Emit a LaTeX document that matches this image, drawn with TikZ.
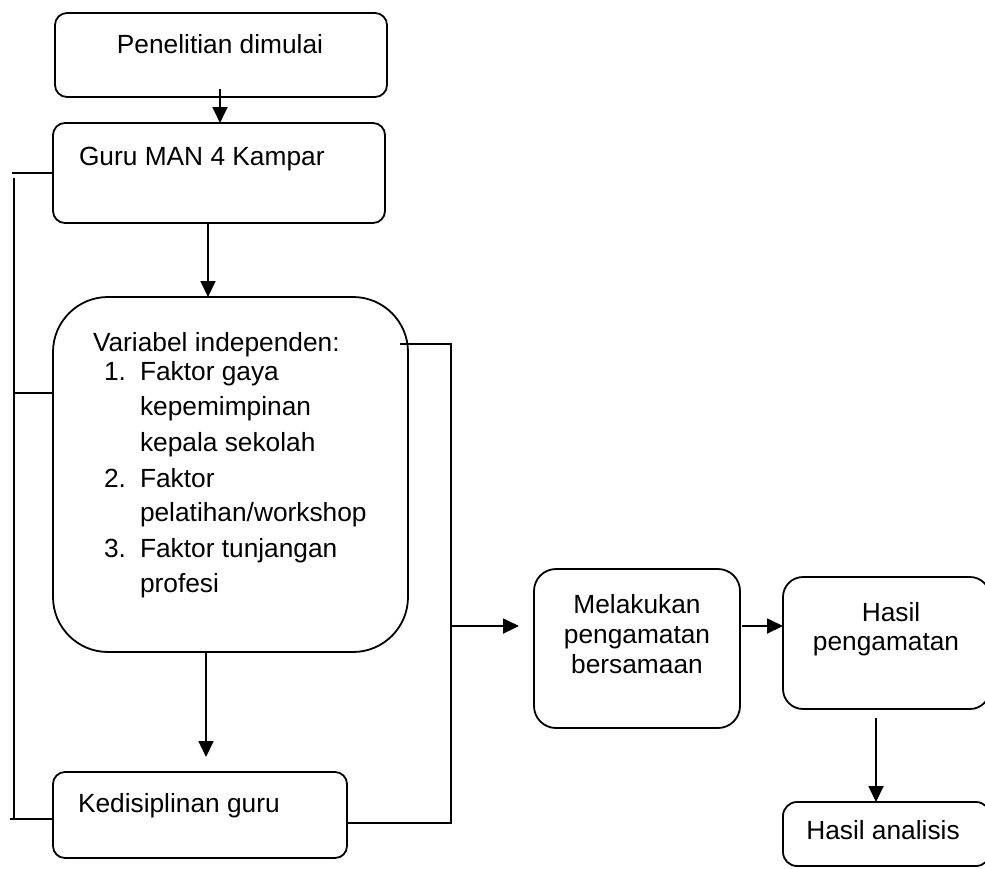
\documentclass[tikz,border=0pt]{standalone}
\usepackage{fontspec}
\setmainfont{Liberation Sans}
\usetikzlibrary{arrows.meta,calc}
\begin{document}
\begin{tikzpicture}[x=1pt,y=-1pt,line width=1.8pt,
  box/.style={draw,rectangle,inner sep=0pt,outer sep=0pt},
  txt/.style={inner sep=0pt,outer sep=0pt,font=\fontsize{26.3}{30}\selectfont},
  arr/.style={-{Triangle[length=16pt,width=15pt]}}]
\useasboundingbox (0,0) rectangle (985,868);
\clip (0,0) rectangle (985,868);
% boxes
\node[box,rounded corners=12pt,minimum width=332pt,minimum height=84pt] (b1) at (221,55) {};
\node[box,rounded corners=12pt,minimum width=332pt,minimum height=100pt] (b2) at (219,173) {};
\node[box,rounded corners=55pt,minimum width=355pt,minimum height=355pt] (b3) at (230.5,474.5) {};
\node[box,rounded corners=12pt,minimum width=294pt,minimum height=86pt] (b4) at (200,815) {};
\node[box,rounded corners=22pt,minimum width=206pt,minimum height=159pt] (b5) at (637,648.5) {};
\node[box,rounded corners=20pt,minimum width=207pt,minimum height=132pt] (b6) at (886.5,643) {};
\node[box,rounded corners=14pt,minimum width=207pt,minimum height=64pt] (b7) at (886.5,834) {};
% texts
\node[txt,anchor=base] (t1) at (220,53) {Penelitian dimulai};
\node[txt,anchor=base west] (t2) at (79,165) {Guru MAN 4 Kampar};
\node[txt,anchor=base west] (t3) at (93,351) {Variabel independen:};
\node[txt,anchor=base west] (n1) at (104,380) {1.};
\node[txt,anchor=base west] (l1) at (140,380) {Faktor gaya};
\node[txt,anchor=base west] (l2) at (140,415) {kepemimpinan};
\node[txt,anchor=base west] (l3) at (140,451) {kepala sekolah};
\node[txt,anchor=base west] (n2) at (104,487) {2.};
\node[txt,anchor=base west] (l4) at (140,487) {Faktor};
\node[txt,anchor=base west] (l5) at (140,521) {pelatihan/workshop};
\node[txt,anchor=base west] (n3) at (104,557) {3.};
\node[txt,anchor=base west] (l6) at (140,557) {Faktor tunjangan};
\node[txt,anchor=base west] (l7) at (140,592) {profesi};
\node[txt,anchor=base west] (t4) at (78,812) {Kedisiplinan guru};
\node[txt,anchor=base] (m1) at (637,613) {Melakukan};
\node[txt,anchor=base] (m2) at (637,643) {pengamatan};
\node[txt,anchor=base] (m3) at (637,673) {bersamaan};
\node[txt,anchor=base] (h1) at (891,621) {Hasil};
\node[txt,anchor=base] (h2) at (886,650) {pengamatan};
\node[txt,anchor=base] (a1) at (883,839) {Hasil analisis};
% connector points
\coordinate (c1) at (220,89);
\coordinate (e3) at (206,757);
\coordinate (L1) at (12,173);
\coordinate (L2) at (14,178);
\coordinate (L3) at (14,819);
\coordinate (L4) at (14,393);
\coordinate (L5) at (10,819);
\coordinate (R1) at (400,344);
\coordinate (R2) at (451,344);
\coordinate (R3) at (451,823);
\coordinate (R4) at (452,626);
\coordinate (R5) at (519,626);
\coordinate (R6) at (742,626);
\coordinate (D1) at (876,718);
% connectors
\draw[arr] (c1) -- (c1 |- b2.north);
\draw[arr] ([xshift=-11pt]b2.south) -- ([xshift=-11pt]b2.south |- b3.north);
\draw[arr] (e3 |- b3.south) -- (e3);
\draw (b2.west) -- (L1);
\draw (L2) -- (L3);
\draw (L4) -- (L4 -| b3.west);
\draw (L5) -- (L5 -| b4.west);
\draw (R1) -- (R2) -- (R3) -- (R3 -| b4.east);
\draw[arr] (R4) -- (R5);
\draw[arr] (R6) -- (R6 -| b6.west);
\draw[arr] (D1) -- (D1 |- b7.north);
\end{tikzpicture}
\end{document}
